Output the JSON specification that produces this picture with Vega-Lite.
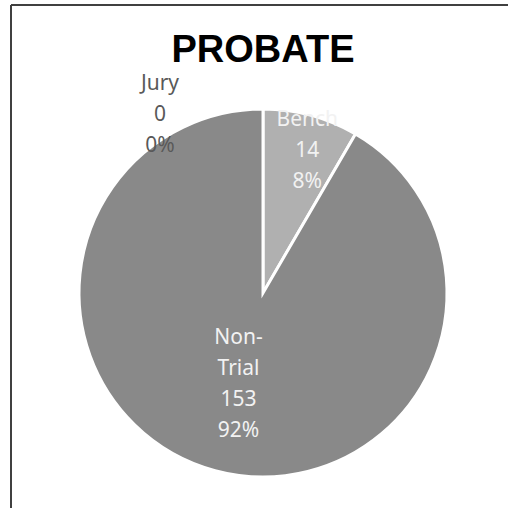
{
  "$schema": "https://vega.github.io/schema/vega-lite/v6.json",
  "width": 497,
  "height": 503,
  "autosize": "none",
  "padding": {"left": 11, "top": 5, "right": 0, "bottom": 0},
  "background": "white",
  "view": {"stroke": null},
  "config": {"view": {"stroke": null}},
  "title": {
    "text": "PROBATE",
    "font": "Liberation Sans",
    "fontSize": 38,
    "fontWeight": "bold",
    "color": "#000000",
    "anchor": "middle",
    "baseline": "alphabetic",
    "offset": -96,
    "dx": 3.5
  },
  "data": {
    "values": [
      {"category": "Jury", "n": 0},
      {"category": "Bench", "n": 14},
      {"category": "Non-Trial", "n": 153}
    ]
  },
  "transform": [
    {"calculate": "indexof(['Jury','Bench','Non-Trial'], datum.category)", "as": "ord"},
    {"joinaggregate": [{"op": "sum", "field": "n", "as": "total"}]},
    {"stack": "n", "groupby": [], "sort": [{"field": "ord", "order": "ascending"}], "as": ["t0", "t1"]},
    {"calculate": "(datum.t0 + datum.t1) / 2", "as": "mid"},
    {"calculate": "replace(datum.category, '-', '-\\n') + '\\n' + datum.n + '\\n' + format(datum.n / datum.total, '.0%')", "as": "label"}
  ],
  "layer": [
    {
      "transform": [{"filter": "datum.category === 'Jury'"}],
      "mark": {"type": "rule", "color": "#404040", "strokeWidth": 2},
      "encoding": {
        "x": {"value": 0},
        "y": {"value": 0},
        "y2": {"value": "height"}
      }
    },
    {
      "transform": [{"filter": "datum.category === 'Jury'"}],
      "mark": {"type": "rule", "color": "#404040", "strokeWidth": 2},
      "encoding": {
        "y": {"value": 0},
        "x": {"value": 0},
        "x2": {"value": "width"}
      }
    },
    {
      "mark": {"type": "arc", "outerRadius": 184, "stroke": "#ffffff", "strokeWidth": 3, "xOffset": 3.5, "yOffset": 36.5},
      "encoding": {
        "theta": {"field": "t0", "type": "quantitative", "scale": {"domain": [0, 167]}},
        "theta2": {"field": "t1"},
        "color": {
          "field": "category",
          "type": "nominal",
          "scale": {"domain": ["Jury", "Bench", "Non-Trial"], "range": ["#5f5f5f", "#b0b0b0", "#898989"]},
          "legend": null
        }
      }
    },
    {
      "transform": [{"filter": "datum.category === 'Bench'"}],
      "mark": {"type": "text", "radius": 147, "xOffset": 3.5, "yOffset": 36.5, "dx": 6, "dy": -31, "align": "center", "baseline": "middle", "lineBreak": "\n", "lineHeight": 31, "font": "Noto Sans", "fontSize": 21, "color": "#f2f2f2"},
      "encoding": {
        "theta": {"field": "mid", "type": "quantitative"},
        "text": {"field": "label"}
      }
    },
    {
      "transform": [{"filter": "datum.category === 'Non-Trial'"}],
      "mark": {"type": "text", "radius": 94, "xOffset": 3.5, "yOffset": 36.5, "dy": -46, "align": "center", "baseline": "middle", "lineBreak": "\n", "lineHeight": 31, "font": "Noto Sans", "fontSize": 21, "color": "#f2f2f2"},
      "encoding": {
        "theta": {"field": "mid", "type": "quantitative"},
        "text": {"field": "label"}
      }
    },
    {
      "transform": [{"filter": "datum.category === 'Jury'"}],
      "mark": {"type": "text", "radius": 180, "xOffset": 3.5, "yOffset": 36.5, "dx": -103, "dy": -29, "align": "center", "baseline": "middle", "lineBreak": "\n", "lineHeight": 31, "font": "Noto Sans", "fontSize": 21, "color": "#595959"},
      "encoding": {
        "theta": {"field": "mid", "type": "quantitative"},
        "text": {"field": "label"}
      }
    }
  ]
}
